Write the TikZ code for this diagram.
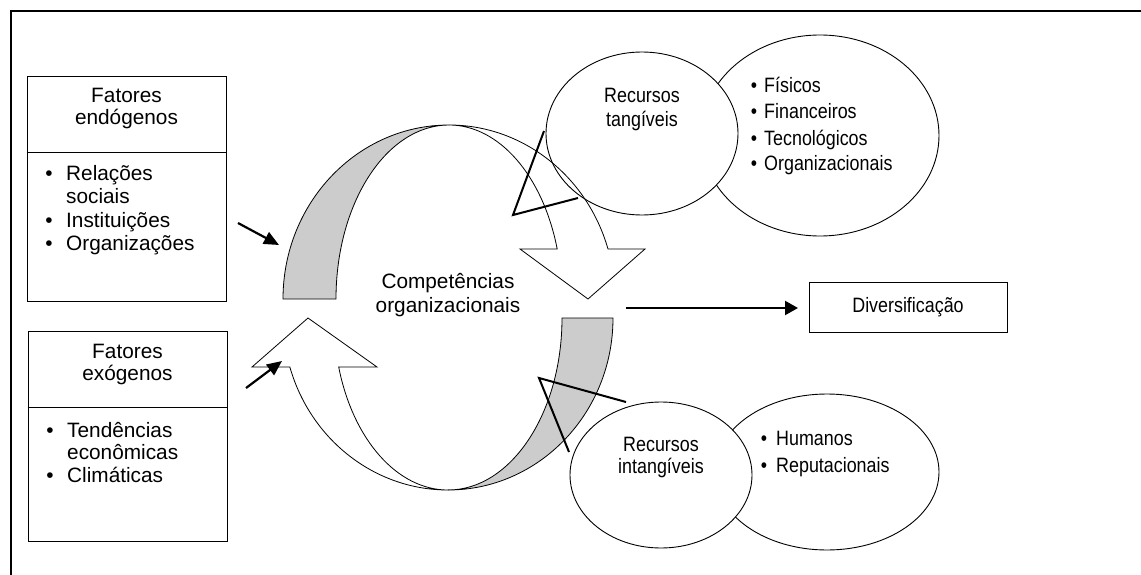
\documentclass[tikz,border=0pt]{standalone}
\usepackage{fontspec}
\setmainfont{Liberation Sans}
\newfontfamily\narrowfont[FakeStretch=0.86]{Liberation Sans}
\usetikzlibrary{shapes.geometric,arrows.meta}
\tikzset{
  lbl/.style={inner sep=0pt, anchor=base, font=\fontsize{20.8}{23}\selectfont},
  lblw/.style={lbl, anchor=base west},
  nlbl/.style={inner sep=0pt, anchor=base, font=\fontsize{20.8}{23}\narrowfont},
  nlblw/.style={nlbl, anchor=base west},
  boxs/.style={draw, line width=0.9pt, inner sep=0pt, rectangle},
  ellfill/.style={ellipse, fill=white, inner sep=0pt},
  elldraw/.style={ellipse, draw, line width=0.9pt, inner sep=0pt},
  thkarrow/.style={line width=2.2pt, -{Triangle[length=15pt,width=13pt]}},
  callout/.style={line width=2pt, line join=miter},
  band/.style={draw, line width=0.8pt, line join=miter},
  shadeband/.style={band, fill=black!20},
}
\begin{document}
\begin{tikzpicture}[x=1pt,y=-1pt]
\useasboundingbox (0,0) rectangle (1141,575);
% outer frame
\draw[line width=2pt] (11,575) -- (11,11.5) -- (1141,11.5);

% left boxes
\node[boxs, minimum width=199pt, minimum height=225pt] (endo) at (126.5,188.5) {};
\draw[line width=0.9pt] (endo.west |- 0,152) -- (endo.east |- 0,152);
\node[boxs, minimum width=199pt, minimum height=210pt] (exo) at (127.5,436) {};
\draw[line width=0.9pt] (exo.west |- 0,407) -- (exo.east |- 0,407);

% diversificacao box
\node[boxs, minimum width=198pt, minimum height=50pt] (div) at (908,307) {};

% ellipses (back)
\node[elldraw, fill=white, minimum width=238pt, minimum height=201pt] (tbig) at (820,135.5) {};
\node[ellfill, minimum width=192pt, minimum height=163pt] (tsmallf) at (642,133.5) {};
\node[elldraw, fill=white, minimum width=224pt, minimum height=156pt] (ibig) at (827,472) {};
\node[ellfill, minimum width=182pt, minimum height=146pt] (ismallf) at (661,475) {};

% upper circular arrow
\draw[shadeband] (283,299) arc[start angle=180,end angle=270,x radius=166,y radius=174]
  arc[start angle=270,end angle=180,x radius=113,y radius=174] -- cycle;
\draw[band, fill=white] (449,125) arc[start angle=270,end angle=343.3,x radius=166,y radius=174]
  -- (645,249) -- (588,299) -- (520,249) -- (557.2,249)
  arc[start angle=343.3,end angle=270,x radius=113,y radius=174] -- cycle;

% lower circular arrow
\draw[shadeband] (613,318) arc[start angle=0,end angle=90,x radius=165,y radius=172]
  arc[start angle=90,end angle=0,x radius=114,y radius=172] -- cycle;
\draw[band, fill=white] (448,490) arc[start angle=90,end angle=163.45,x radius=165,y radius=172]
  -- (252,367) -- (308,318) -- (377,367) -- (338.7,367)
  arc[start angle=163.45,end angle=90,x radius=114,y radius=172] -- cycle;

% small ellipse outlines (front)
\node[elldraw, minimum width=192pt, minimum height=163pt] (tsmall) at (642,133.5) {};
\node[elldraw, minimum width=182pt, minimum height=146pt] (ismall) at (661,475) {};

% callouts
\coordinate (tc1) at (544,131);
\coordinate (tc2) at (513,215);
\coordinate (tc3) at (578,198);
\draw[callout] (tc1) -- (tc2) -- (tc3);
\coordinate (ic1) at (626,402);
\coordinate (ic2) at (539,378);
\coordinate (ic3) at (569,452);
\draw[callout] (ic1) -- (ic2) -- (ic3);

% arrows
\coordinate (ea) at (238,223);
\coordinate (eb) at (279,245);
\draw[thkarrow] (ea) -- (eb);
\coordinate (xa) at (246,388);
\coordinate (xb) at (282,361);
\draw[thkarrow] (xa) -- (xb);
\coordinate (da) at (626,308);
\coordinate (db) at (798,308);
\draw[line width=2.2pt, -{Triangle[length=13pt,width=14pt]}] (da) -- (db);

% texts: endogenos
\node[lbl] (endoh1) at (126.5,103) {Fatores};
\node[lbl] (endoh2) at (126.5,125) {endógenos};
\node[lbl] (endob1) at (49,181) {•};
\node[lblw] (endot1) at (66,181) {Relações};
\node[lblw] (endot1b) at (66,204) {sociais};
\node[lbl] (endob2) at (49,227) {•};
\node[lblw] (endot2) at (66,227) {Instituições};
\node[lbl] (endob3) at (49,250) {•};
\node[lblw] (endot3) at (66,250) {Organizações};

% texts: exogenos
\node[lbl] (exoh1) at (127.5,358) {Fatores};
\node[lbl] (exoh2) at (127.5,380) {exógenos};
\node[lbl] (exob1) at (50,437) {•};
\node[lblw] (exot1) at (67,437) {Tendências};
\node[lblw] (exot1b) at (67,459) {econômicas};
\node[lbl] (exob2) at (50,482) {•};
\node[lblw] (exot2) at (67,482) {Climáticas};

% center
\node[lbl] (comp1) at (448,288) {Competências};
\node[lbl] (comp2) at (448,312) {organizacionais};

% tangiveis
\node[nlbl] (tang1) at (642,103) {Recursos};
\node[nlbl] (tang2) at (642,127) {tangíveis};
\node[nlbl] (tb1) at (754,93) {•};
\node[nlblw] (tt1) at (764,93) {Físicos};
\node[nlbl] (tb2) at (754,119) {•};
\node[nlblw] (tt2) at (764,119) {Financeiros};
\node[nlbl] (tb3) at (754,145.5) {•};
\node[nlblw] (tt3) at (764,145.5) {Tecnológicos};
\node[nlbl] (tb4) at (754,171) {•};
\node[nlblw] (tt4) at (764,171) {Organizacionais};

% intangiveis
\node[nlbl] (int1) at (661,451) {Recursos};
\node[nlbl] (int2) at (661,473.5) {intangíveis};
\node[nlbl] (ib1) at (764,445) {•};
\node[nlblw] (it1) at (776,445) {Humanos};
\node[nlbl] (ib2) at (764,472) {•};
\node[nlblw] (it2) at (776,472) {Reputacionais};

% diversificacao text
\node[nlbl] (divt) at (908,312) {Diversificação};
\end{tikzpicture}
\end{document}
